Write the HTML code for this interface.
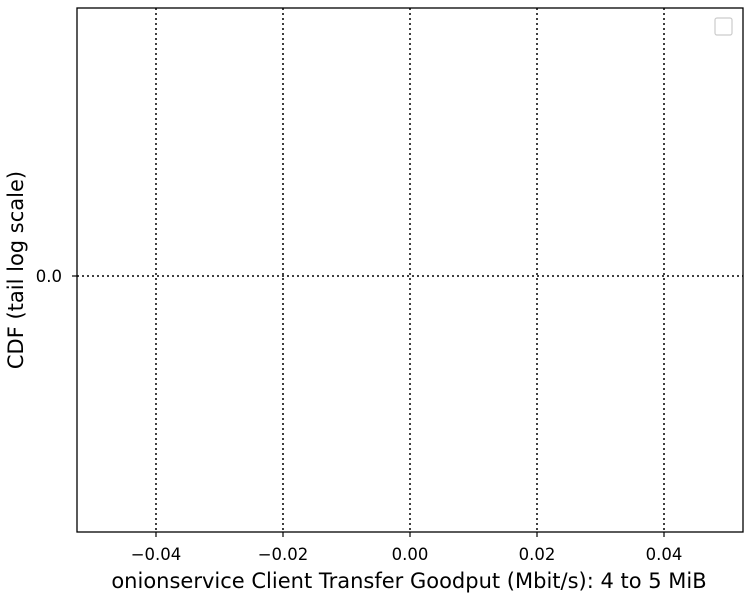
<!DOCTYPE html>
<html><head><meta charset="utf-8"><style>
body{margin:0;background:#fff;}
svg{display:block;font-family:"DejaVu Sans","Liberation Sans",sans-serif;}
</style></head><body>
<svg width="750" height="600" xmlns="http://www.w3.org/2000/svg">
<g id="grid"></g>
<g id="xticks"></g>
<g id="yticks"></g>
<rect x="77" y="8" width="666" height="524" fill="none" stroke="#000" stroke-width="1.3"/>
<rect x="715" y="18" width="17" height="17" fill="#fff" stroke="#ccc" stroke-width="1.2" rx="2"/>
<text x="409" y="588" font-size="21" text-anchor="middle">onionservice Client Transfer Goodput (Mbit/s): 4 to 5 MiB</text>
<text transform="translate(23,270) rotate(-90)" font-size="21" text-anchor="middle">CDF (tail log scale)</text>
</svg>
<script>
const xTicks=[-0.04,-0.02,0.00,0.02,0.04];
const xTickLabels=["\u22120.04","\u22120.02","0.00","0.02","0.04"];
const yTicks=[0.0];
const yTickLabels=["0.0"];
const X0=77,X1=743,Y0=8,Y1=532;
const xMin=-0.05244,xMax=0.05244;
function xs(v){return X0+(v-xMin)/(xMax-xMin)*(X1-X0);}
function ys(v){return 276 - v*100;}
const ns="http://www.w3.org/2000/svg";
const grid=document.getElementById('grid'),xg=document.getElementById('xticks'),yg=document.getElementById('yticks');
function mk(tag,attrs,parent){const e=document.createElementNS(ns,tag);for(const k in attrs)e.setAttribute(k,attrs[k]);parent.appendChild(e);return e;}
xTicks.forEach((v,i)=>{
  const x=xs(v);
  const g=mk('line',{x1:x,x2:x,y1:Y0,y2:Y1,stroke:'#000','stroke-width':1.5,'stroke-dasharray':'2,3'},grid);
  
  
  const t=mk('line',{x1:x,x2:x,y1:Y1,y2:Y1+5,stroke:'#000','stroke-width':1.2},xg);
  
  
  const l=mk('text',{x:x,y:560,'font-size':16.5,'text-anchor':'middle'},xg);
  l.textContent=xTickLabels[i];
  
  
});
yTicks.forEach((v,i)=>{
  const y=ys(v);
  const g=mk('line',{x1:X0,x2:X1,y1:y,y2:y,stroke:'#000','stroke-width':1.5,'stroke-dasharray':'2,3'},grid);
  
  
  const t=mk('line',{x1:X0-5,x2:X0,y1:y,y2:y,stroke:'#000','stroke-width':1.2},yg);
  
  
  const l=mk('text',{x:X0-15,y:y+6,'font-size':16.5,'text-anchor':'end'},yg);
  l.textContent=yTickLabels[i];
  
  
});
</script>
</body></html>
